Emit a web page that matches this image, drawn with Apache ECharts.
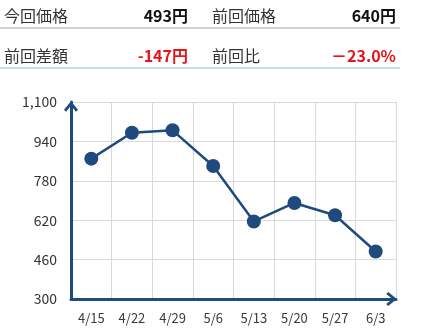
<!DOCTYPE html>
<html><head><meta charset="utf-8">
<script src="https://cdn.jsdelivr.net/npm/echarts@6/dist/echarts.min.js"></script>
<style>
html,body{margin:0;padding:0;background:#fff;}
#wrap{position:relative;width:428px;height:334px;overflow:hidden;font-family:"Noto Sans CJK JP","Noto Sans",sans-serif;}
#chart{position:absolute;left:0;top:0;width:428px;height:334px;}
.row{position:absolute;left:0;width:400px;height:28px;}
.cell{position:absolute;font-size:16px;line-height:20px;}
.lab{color:#333;}
.val{font-weight:bold;color:#111;text-align:right;}
.red{color:#e8141c;}
</style></head>
<body><div id="wrap"><div id="chart"></div>
<div class="row" style="top:0;border-bottom:2px solid #d0d0d0;height:27px;">
  <div class="cell lab" style="left:4px;top:5px;" id="l1"></div>
  <div class="cell val" style="right:212px;top:5px;" id="v1"></div>
  <div class="cell lab" style="left:212px;top:5px;" id="l2"></div>
  <div class="cell val" style="right:4px;top:5px;" id="v2"></div>
</div>
<div class="row" style="top:40px;border-bottom:2px solid #c6daf0;height:27px;">
  <div class="cell lab" style="left:4px;top:5px;" id="l3"></div>
  <div class="cell val red" style="right:212px;top:5px;" id="v3"></div>
  <div class="cell lab" style="left:212px;top:5px;" id="l4"></div>
  <div class="cell val red" style="right:4px;top:5px;" id="v4"></div>
</div>
</div>
<script>
var categories = ['4/15','4/22','4/29','5/6','5/13','5/20','5/27','6/3'];
var prices = [870, 975, 985, 840, 615, 690, 640, 493];
var yTicks = [300, 460, 620, 780, 940, 1100];
var headerLabels = ['今回価格', '前回価格', '前回差額', '前回比'];
var headerValues = ['493円', '640円', '-147円', '－23.0%'];

document.getElementById('l1').textContent = headerLabels[0];
document.getElementById('l2').textContent = headerLabels[1];
document.getElementById('l3').textContent = headerLabels[2];
document.getElementById('l4').textContent = headerLabels[3];
document.getElementById('v1').textContent = headerValues[0];
document.getElementById('v2').textContent = headerValues[1];
document.getElementById('v3').textContent = headerValues[2];
document.getElementById('v4').textContent = headerValues[3];

var navy = '#1f4a7e';
var chevron = 'path://M0,8.6 L7,0 L14,8.6 L11.9,10.6 L7,4.3 L2.1,10.6 Z';
var fontFam = '"Noto Sans CJK JP","Noto Sans",sans-serif';
var chart = echarts.init(document.getElementById('chart'), null, {renderer:'canvas'});
chart.setOption({
  animation: false,
  backgroundColor: 'transparent',
  grid: {left: 71, right: 32, top: 102, bottom: 35, containLabel: false},
  xAxis: {
    type: 'category',
    data: categories,
    boundaryGap: true,
    axisLine: {show: true, lineStyle: {color: navy, width: 3}, symbol: ['none', chevron], symbolSize: [14, 11], symbolOffset: [0, -4.5]},
    axisTick: {show: false},
    axisLabel: {color: '#3a3a3a', fontSize: 13, margin: 13, fontFamily: fontFam},
    splitLine: {show: true, interval: 0, lineStyle: {color: '#d9d9d9', width: 1}}
  },
  yAxis: {
    type: 'value',
    min: yTicks[0],
    max: yTicks[yTicks.length - 1],
    interval: yTicks[1] - yTicks[0],
    axisLine: {show: true, lineStyle: {color: navy, width: 3}, symbol: ['none', chevron], symbolSize: [14, 11], symbolOffset: [0, -4.5]},
    axisTick: {show: false},
    axisLabel: {color: '#333', fontSize: 14, margin: 14, fontFamily: fontFam,
      formatter: function (v) { return v.toLocaleString('en-US'); }},
    splitLine: {show: true, lineStyle: {color: '#d9d9d9', width: 1}}
  },
  series: [{
    type: 'line',
    data: prices,
    symbol: 'circle',
    symbolSize: 14,
    itemStyle: {color: navy, borderWidth: 0},
    lineStyle: {color: navy, width: 2.5},
    z: 5
  }]
});
</script></body></html>
